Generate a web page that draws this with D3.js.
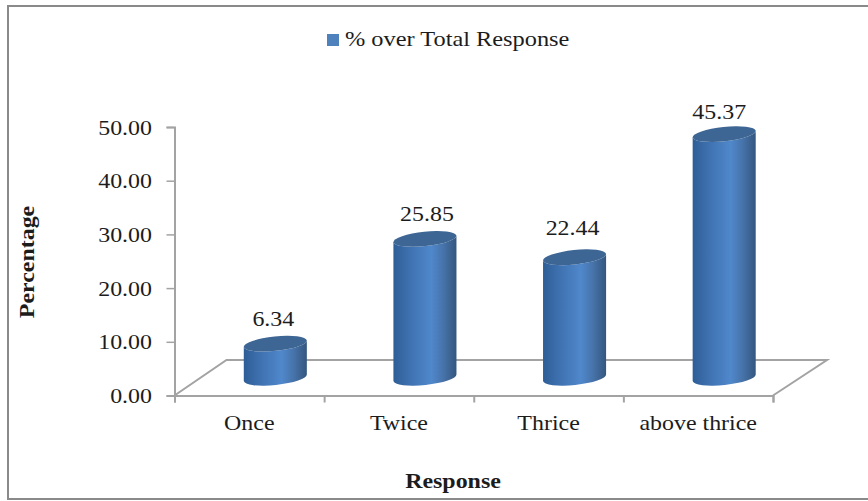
<!DOCTYPE html>
<html>
<head>
<meta charset="utf-8">
<script src="https://cdn.jsdelivr.net/npm/d3@7/dist/d3.min.js"></script>
<style>
  html, body { margin: 0; padding: 0; background: #fff; }
  svg { display: block; }
  text { font-family: "Liberation Serif", serif; fill: #1c1c1c; }
</style>
</head>
<body>
<svg id="chart" width="868" height="501"></svg>
<script>
const categories = ["Once", "Twice", "Thrice", "above thrice"];
const seriesName = "% over Total Response";
const percentages = [6.34, 25.85, 22.44, 45.37];
const valueTicks = [0, 10, 20, 30, 40, 50];
const xTitle = "Response";
const yTitle = "Percentage";

// Layout of the oblique 3D plot
const plot = { left: 174.5, right: 773, top: 127, bottom: 395.5 };
const depth = { x: 52, y: -35.5 };
const cyl = { rx: 31.7, ry: 7.2, tilt: -6 };
const fontSize = 21;
const stretch = 1.14;   // glyphs are set wider than they are tall
const axisGrey = "#a3a3a3";
// Hand placement of each value label relative to its cylinder top
const labelNudge = [[-2, 0], [2, 0], [-2, -4], [-5, 3]];

const svg = d3.select("#chart");

const x = d3.scaleBand().domain(categories).range([plot.left, plot.right]);
const xEdges = d3.scaleLinear().domain([0, categories.length]).range([plot.left, plot.right]);
const y = d3.scaleLinear().domain([0, 50]).range([plot.bottom, plot.top]);

// Outer chart frame; its right side runs off the page
svg.append("rect")
  .attr("x", 8).attr("y", 6).attr("width", 880).attr("height", 493)
  .attr("fill", "#fff").attr("stroke", "#8a8a8a").attr("stroke-width", 2);

const defs = svg.append("defs");
const grad = defs.append("linearGradient").attr("id", "cylinderSide");
[[0, "#2e5e96"], [0.2, "#3b6dab"], [0.6, "#5088cc"], [0.8, "#4672a8"], [1, "#34577f"]]
  .forEach(([o, c]) => grad.append("stop").attr("offset", o).attr("stop-color", c));

// Floor of the 3D plot
const floor = d3.path();
floor.moveTo(plot.left, plot.bottom);
floor.lineTo(plot.left + depth.x, plot.bottom + depth.y);
floor.lineTo(plot.right + depth.x + 2, plot.bottom + depth.y);
floor.lineTo(plot.right, plot.bottom);
svg.append("path").attr("d", floor.toString())
  .attr("fill", "none").attr("stroke", axisGrey).attr("stroke-width", 2);

// Value axis
const yAxis = svg.append("g")
  .attr("transform", `translate(${plot.left},0)`)
  .call(d3.axisLeft(y).tickValues(valueTicks).tickFormat(d3.format(".2f")).tickSize(8).tickSizeOuter(8));
// Category axis: tick marks sit on the boundaries between categories
const xTickAxis = svg.append("g")
  .attr("transform", `translate(0,${plot.bottom})`)
  .call(d3.axisBottom(xEdges).ticks(categories.length).tickFormat("").tickSize(7).tickSizeOuter(7));
[yAxis, xTickAxis].forEach(g => {
  g.selectAll("path, line").attr("stroke", axisGrey).attr("stroke-width", 2);
});
yAxis.selectAll("line").attr("stroke-width", 1.5);
yAxis.selectAll("text")
  .attr("x", null).attr("dy", null)
  .attr("transform", `translate(-22.5,7) scale(${stretch},1)`)
  .attr("font-family", null).attr("font-size", fontSize).attr("fill", "#2a2a2a");

const xLabels = svg.append("g")
  .attr("transform", `translate(0,${plot.bottom})`)
  .call(d3.axisBottom(x).tickSize(0));
xLabels.select(".domain").remove();
xLabels.selectAll("text")
  .attr("y", null).attr("dy", null)
  .attr("transform", `translate(0,34) scale(${stretch},1)`)
  .attr("font-family", null).attr("font-size", fontSize).attr("fill", "#1c1c1c");

// Cylinders: base centre sits halfway into the depth of the floor
const t = cyl.tilt * Math.PI / 180;
const ex = cyl.rx * Math.cos(t), ey = cyl.rx * Math.sin(t);
const cx = d => x(d) + x.bandwidth() / 2 + depth.x / 2;
const baseY = y(0) + depth.y / 2;
const topY = v => y(v) + depth.y / 2;
const arc = (sweep, px, py) => `A${cyl.rx},${cyl.ry} ${cyl.tilt} 0 ${sweep} ${px},${py}`;

const bars = svg.append("g").selectAll("g")
  .data(categories.map((c, i) => ({ c, v: percentages[i], i })))
  .join("g");

bars.append("path")
  .attr("d", d => {
    const c = cx(d.c), yT = topY(d.v);
    return `M${c - ex},${yT - ey} L${c - ex},${baseY - ey} `
      + arc(0, c + ex, baseY + ey)
      + ` L${c + ex},${yT + ey} `
      + arc(1, c - ex, yT - ey) + "Z";
  })
  .attr("fill", "url(#cylinderSide)");

bars.append("ellipse")
  .attr("rx", cyl.rx).attr("ry", cyl.ry)
  .attr("transform", d => `translate(${cx(d.c)},${topY(d.v)}) rotate(${cyl.tilt})`)
  .attr("fill", "#3d6694");

// Value labels
bars.append("text")
  .attr("transform", d => `translate(${cx(d.c) + labelNudge[d.i][0]},${topY(d.v) - 18 + labelNudge[d.i][1]}) scale(${stretch},1)`)
  .attr("text-anchor", "middle")
  .attr("font-size", fontSize)
  .text(d => d.v.toFixed(2));

// Legend
svg.append("rect")
  .attr("x", 327).attr("y", 34).attr("width", 12).attr("height", 12)
  .attr("fill", "#4f81bd");
svg.append("text")
  .attr("transform", `translate(345,46) scale(${stretch + 0.02},1)`)
  .attr("font-size", fontSize)
  .text(seriesName);

// Axis titles
svg.append("text")
  .attr("transform", `translate(453,488) scale(${stretch},1)`)
  .attr("text-anchor", "middle").attr("font-size", fontSize).attr("font-weight", "bold")
  .attr("fill", "#111")
  .text(xTitle);
svg.append("text")
  .attr("transform", `translate(33.5,262) rotate(-90) scale(${stretch},1)`)
  .attr("text-anchor", "middle").attr("font-size", fontSize).attr("font-weight", "bold")
  .attr("fill", "#111")
  .text(yTitle);
</script>
</body>
</html>
